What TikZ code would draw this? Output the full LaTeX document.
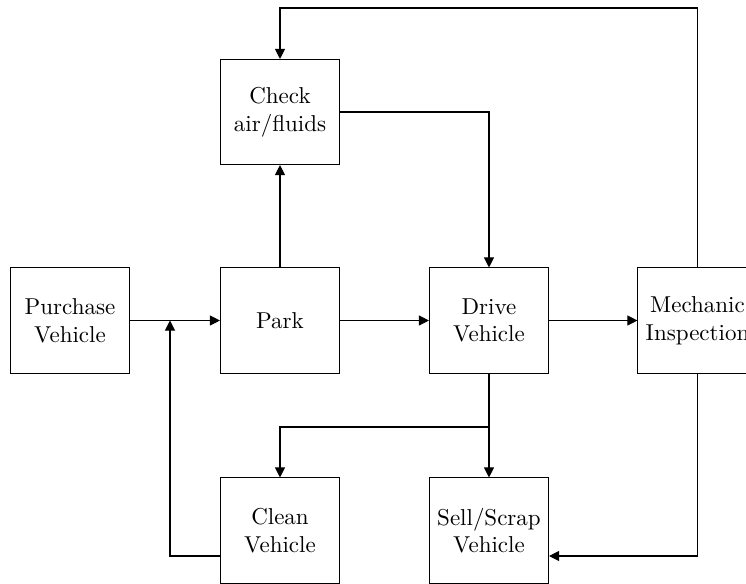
\documentclass[tikz,border=0pt]{standalone}
\usetikzlibrary{arrows.meta}
\begin{document}
\begin{tikzpicture}[x=0.435pt,y=-0.435pt,
  box/.style={draw,line width=0.45pt,minimum width=51.8pt,minimum height=45.7pt,inner sep=0pt,align=center,font=\normalsize},
  arr/.style={-{Triangle[length=4.4pt,width=4.4pt]},line width=0.45pt},
  ln/.style={line width=0.45pt}]
\useasboundingbox (0,0) rectangle (746,583);
\node[box] (purchase) at (70,320.5) {Purchase\\Vehicle};
\node[box] (park) at (280,320.5) {Park};
\node[box] (drive) at (489,320.5) {Drive\\Vehicle};
\node[box] (mech) at (697.5,320.5) {Mechanic\\Inspection};
\node[box] (check) at (280,112) {Check\\air/fluids};
\node[box] (clean) at (280,530.5) {Clean\\Vehicle};
\node[box] (sell) at (489,530.5) {Sell/Scrap\\Vehicle};
\coordinate (topline) at (0,8);
\coordinate (junc) at (170,320.5);
\coordinate (split) at (0,427);
\coordinate (lowline) at (0,556);
\draw[arr] (purchase) -- (park);
\draw[arr] (park) -- (drive);
\draw[arr] (drive) -- (mech);
\draw[arr] (park) -- (check);
\draw[arr] (check.east) -| (drive.north);
\draw[arr] (mech.north) -- (mech.north |- topline) -| (check.north);
\draw[arr] (drive.south) -- (sell.north);
\draw[arr] (drive.south |- split) -| (clean.north);
\draw[arr] (mech.south) -- (mech.south |- lowline) -- (sell.east |- lowline);
\draw[arr] (clean.west |- lowline) -| (junc);
\end{tikzpicture}
\end{document}
